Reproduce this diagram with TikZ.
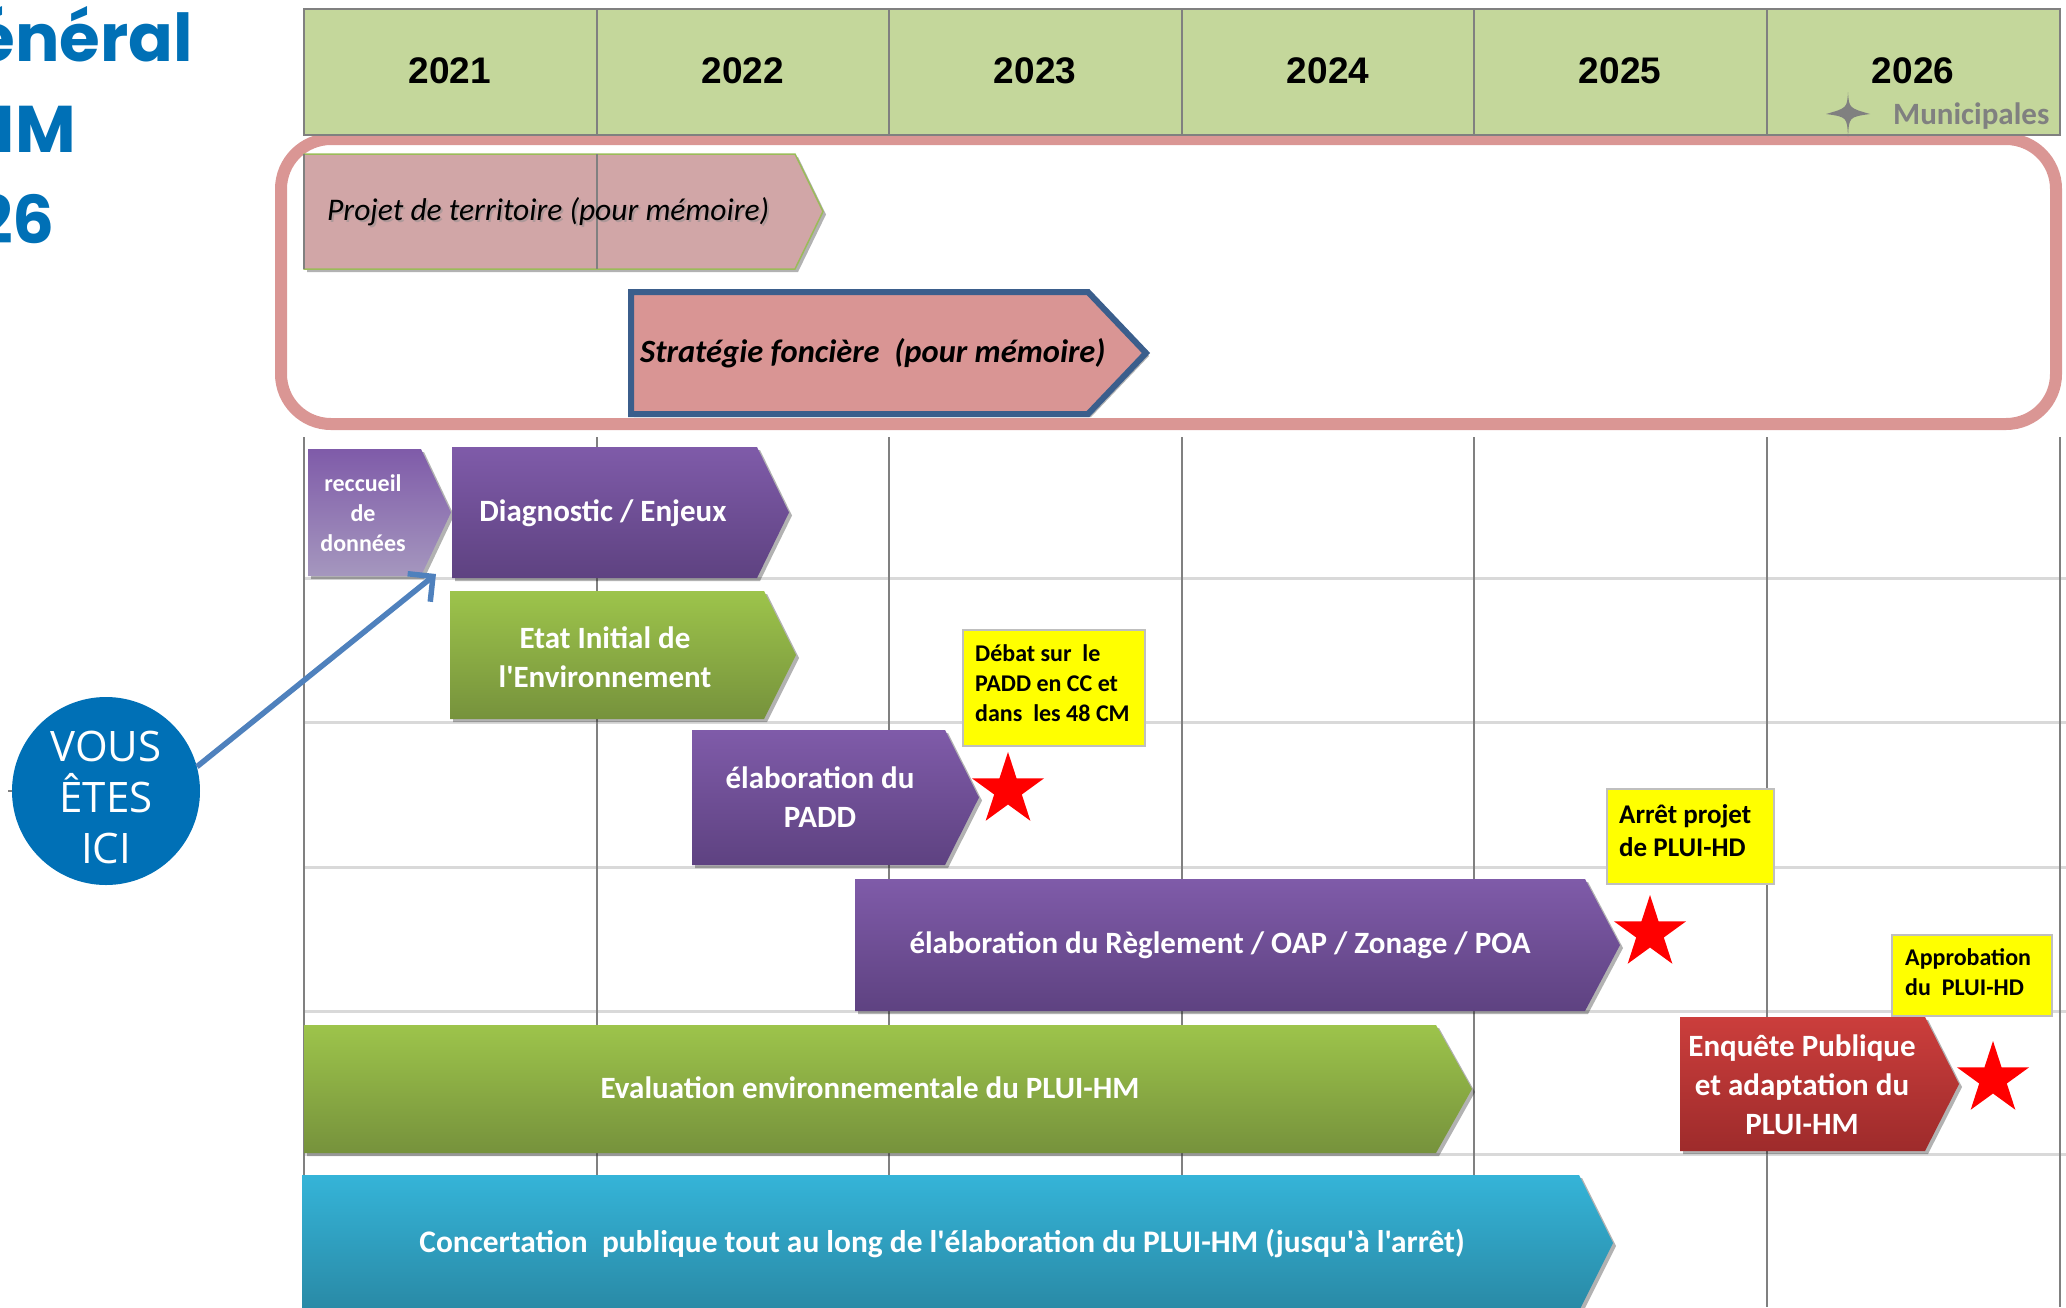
\documentclass[tikz,border=0pt]{standalone}
\usepackage{fontspec}
\setmainfont{Carlito}[Ligatures=TeXOff]
\newfontfamily\yearfont{Liberation Sans}
\newfontfamily\titlefont{Poppins}
\newfontfamily\circfont{Open Sans}
\usetikzlibrary{shapes.geometric, arrows.meta, shadows}

\definecolor{hdrgreen}{HTML}{C4D79B}
\definecolor{gridgray}{HTML}{808080}
\definecolor{hgray}{HTML}{D9D9D9}
\definecolor{pinkframe}{HTML}{DA9694}
\definecolor{projfill}{HTML}{D1A6A7}
\definecolor{projline}{HTML}{9BBB59}
\definecolor{stratfill}{HTML}{D99594}
\definecolor{stratline}{HTML}{3B5E8C}
\definecolor{purpTop}{HTML}{7F5BA9}
\definecolor{purpBot}{HTML}{5E4281}
\definecolor{lavBot}{HTML}{A597BE}
\definecolor{grnTop}{HTML}{9DC44B}
\definecolor{grnBot}{HTML}{76923C}
\definecolor{redTop}{HTML}{CB3E3C}
\definecolor{redBot}{HTML}{9E2B2B}
\definecolor{cyanTop}{HTML}{35B4D8}
\definecolor{cyanBot}{HTML}{2989A5}
\definecolor{titleblue}{HTML}{0070B6}
\definecolor{arrowblue}{HTML}{4F81BD}
\definecolor{starred}{HTML}{FF0000}
\definecolor{notey}{HTML}{FFFF00}
\definecolor{noteline}{HTML}{BFBFBF}

% style, x1, y1, x2 (tip), y2, x of tip start
\newcommand{\chevbar}[6]{%
  \path[#1] (#2,#3) -- (#6,#3) -- (#4,{(#3+#5)/2}) -- (#6,#5) -- (#2,#5) -- cycle;}

\begin{document}
\begin{tikzpicture}[x=1pt,y=-1pt,
  barshadow/.style={drop shadow={shadow xshift=3pt, shadow yshift=-3pt, opacity=0.3, fill=black}},
  purplebar/.style={barshadow, top color=purpTop, bottom color=purpBot},
  lavbar/.style={barshadow, top color=purpTop, bottom color=lavBot},
  greenbar/.style={barshadow, top color=grnTop, bottom color=grnBot},
  redbar/.style={barshadow, top color=redTop, bottom color=redBot},
  cyanbar/.style={barshadow, top color=cyanTop, bottom color=cyanBot},
  bartxt/.style={text=white, font=\fontsize{31}{39}\selectfont\bfseries, align=center, inner sep=0},
  smalltxt/.style={text=white, font=\fontsize{24}{30}\selectfont\bfseries, align=center, inner sep=0},
  yeartxt/.style={font=\yearfont\bfseries\fontsize{37}{42}\selectfont, inner sep=0},
  titletxt/.style={text=titleblue, font=\titlefont\bfseries\fontsize{66}{80}\selectfont, inner sep=0},
  notebox/.style={fill=notey, draw=noteline, line width=1.5, inner sep=0},
  notetxt/.style={align=left, inner sep=0, anchor=west},
  redstar/.style={star, star points=5, star point ratio=2.618, fill=starred, draw=none, minimum size=76, inner sep=0},
  vline/.style={gridgray, line width=2},
  hline/.style={hgray, line width=3}
]
\useasboundingbox (0,0) rectangle (2066,1307);
\clip (0,0) rectangle (2066,1307);

% title (cut off at left)
\node[titletxt, anchor=base east] (t1) at (193,61) {énéral};
\node[titletxt, anchor=base east] (t2) at (76,152) {HM};
\node[titletxt, anchor=base east] (t3) at (55,243) {26};

% pink frame
\draw[pinkframe, line width=12, rounded corners=50] (281,139) rectangle (2056,424);

% header
\draw[vline, fill=hdrgreen] (304,9) rectangle (2060,135);
\foreach \x in {597,889,1182,1474,1767} \draw[vline] (\x,9) -- (\x,135);
\foreach \x/\yr in {450/2021,743/2022,1035/2023,1328/2024,1620/2025,1913/2026}
  \node[yeartxt] (y\yr) at (\x,71) {\yr};
\node[font=\bfseries\fontsize{31}{34}\selectfont, text=gridgray, anchor=base west, inner sep=0] (muni) at (1893,124) {Municipales};
\fill[gridgray] (1848,92) .. controls (1849,108) .. (1870,114) .. controls (1849,117) .. (1848,137)
   .. controls (1847,117) .. (1826,114) .. controls (1847,108) .. (1848,92) -- cycle;

% lower grid
\foreach \y in {578,722,867,1011,1154} \draw[hline] (304,\y) -- (2066,\y);
\foreach \x in {304,597,889,1182,1474,1767,2060} \draw[vline] (\x,437) -- (\x,1307);

% memo bars
\chevbar{barshadow, fill=projfill, draw=projline, line width=1.5}{304}{154}{823}{269}{795}
\draw[gridgray, line width=1.5] (597,154) -- (597,269);
\draw[vline] (304,154) -- (304,269);
\node[font=\itshape\fontsize{31.5}{38}\selectfont, text=black!45, opacity=0.5, inner sep=0, anchor=west] (projetsh) at (329,214) {Projet de territoire (pour mémoire)};
\node[font=\itshape\fontsize{31.5}{38}\selectfont, inner sep=0, anchor=west] (projet) at (327,212) {Projet de territoire (pour mémoire)};
\chevbar{barshadow, fill=stratfill, draw=stratline, line width=6}{631}{292}{1146}{414}{1088}
\node[font=\bfseries\itshape\fontsize{32.5}{38}\selectfont, inner sep=0, anchor=west] (strat) at (640,353) {Stratégie foncière~~(pour mémoire)};

% phase bars
\chevbar{lavbar}{308}{449}{451}{576}{421}
\node[smalltxt] (recueil) at (363,513) {reccueil\\de\\données};
\chevbar{purplebar}{452}{447}{789}{578}{757}
\node[bartxt] (diag) at (603,513) {Diagnostic / Enjeux};
\chevbar{greenbar}{450}{591}{796}{719}{764}
\node[bartxt] (eie) at (605,657) {Etat Initial de\\l'Environnement};
\chevbar{purplebar}{692}{730}{979}{865}{945}
\node[bartxt] (padd) at (820,797) {élaboration du\\PADD};
\chevbar{purplebar}{855}{879}{1620}{1011}{1585}
\node[bartxt] (regl) at (1220,945) {élaboration du Règlement / OAP / Zonage / POA};
\chevbar{greenbar}{304}{1025}{1472}{1153}{1436}
\node[bartxt] (eval) at (870,1088) {Evaluation environnementale du PLUI-HM};
\chevbar{redbar}{1680}{1017}{1959}{1151}{1925}
\node[bartxt] (enq) at (1802,1085) {Enquête Publique\\et adaptation du\\PLUI-HM};
\chevbar{cyanbar}{302}{1175}{1613}{1311}{1579}
\node[bartxt, font=\fontsize{31.4}{39}\selectfont\bfseries] (conc) at (942,1243) {Concertation~~publique tout au long de l'élaboration du PLUI-HM (jusqu'à l'arrêt)};

% notes and stars
\node[notebox, minimum width=182, minimum height=116] (debat) at (1054,688) {};
\node[notetxt, font=\bfseries\fontsize{24}{30}\selectfont] (debattxt) at (975,683) {Débat sur~~le\\PADD en CC et\\dans~~les 48 CM};
\node[redstar] (s1) at (1008,790) {};
\node[notebox, minimum width=167, minimum height=95] (arret) at (1690.5,836.5) {};
\node[notetxt, font=\bfseries\fontsize{27}{33}\selectfont] (arrettxt) at (1619,831) {Arrêt projet\\de PLUI-HD};
\node[redstar] (s2) at (1650,933) {};
\node[notebox, minimum width=160, minimum height=81] (appro) at (1972,975.5) {};
\node[notetxt, font=\bfseries\fontsize{24}{30}\selectfont] (approtxt) at (1905,972) {Approbation\\du~~PLUI-HD};
\node[redstar] (s3) at (1993,1079) {};

% vous etes ici
\draw[gridgray, line width=1.5] (8,791) -- (14,791);
\node[circle, fill=titleblue, minimum size=188, inner sep=0] (vous) at (106,791) {};
\node[font=\circfont\fontsize{42}{51}\selectfont, text=white, align=center, inner sep=0] (voustxt) at (106,797) {VOUS\\ÊTES\\ICI};
\coordinate (arrtip) at (436,574);
\draw[arrowblue, line width=5.5, -{Straight Barb[length=18, width=36]}] (vous.15) -- (arrtip);
\end{tikzpicture}
\end{document}
